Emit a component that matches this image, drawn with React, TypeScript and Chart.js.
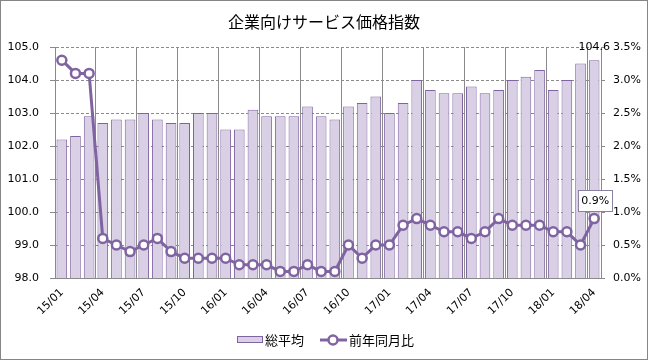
import React, { useEffect, useRef } from "react";
import { Chart, registerables } from "chart.js";

Chart.register(...registerables);

const TITLE = "企業向けサービス価格指数";
const SERIES_BAR = "総平均";
const SERIES_LINE = "前年同月比";

const categories = [
  "15/01", "15/02", "15/03", "15/04", "15/05", "15/06", "15/07", "15/08", "15/09", "15/10", "15/11", "15/12",
  "16/01", "16/02", "16/03", "16/04", "16/05", "16/06", "16/07", "16/08", "16/09", "16/10", "16/11", "16/12",
  "17/01", "17/02", "17/03", "17/04", "17/05", "17/06", "17/07", "17/08", "17/09", "17/10", "17/11", "17/12",
  "18/01", "18/02", "18/03", "18/04",
];

const indexValues = [
  102.2, 102.3, 102.9, 102.7, 102.8, 102.8, 103.0, 102.8, 102.7, 102.7, 103.0, 103.0,
  102.5, 102.5, 103.1, 102.9, 102.9, 102.9, 103.2, 102.9, 102.8, 103.2, 103.3, 103.5,
  103.0, 103.3, 104.0, 103.7, 103.6, 103.6, 103.8, 103.6, 103.7, 104.0, 104.1, 104.3,
  103.7, 104.0, 104.5, 104.6,
];

const yoyValues = [
  3.3, 3.1, 3.1, 0.6, 0.5, 0.4, 0.5, 0.6, 0.4, 0.3, 0.3, 0.3,
  0.3, 0.2, 0.2, 0.2, 0.1, 0.1, 0.2, 0.1, 0.1, 0.5, 0.3, 0.5,
  0.5, 0.8, 0.9, 0.8, 0.7, 0.7, 0.6, 0.7, 0.9, 0.8, 0.8, 0.8,
  0.7, 0.7, 0.5, 0.9,
];

const LEFT_MIN = 98;
const LEFT_MAX = 105;
const LEFT_STEP = 1;
const RIGHT_MIN = 0;
const RIGHT_MAX = 3.5;
const RIGHT_STEP = 0.5;

const PURPLE = "#8064A2";
const BAR_FILL = "#D9D0E5";
const GRID = "#8a8a8a";
const TICK_FONT = "'DejaVu Sans', Verdana, sans-serif";
const CJK_FONT = "'Noto Sans CJK JP', 'Noto Sans', sans-serif";

const decorPlugin = {
  id: "decor",
  beforeDraw(chart: any) {
    const ctx = chart.ctx;
    ctx.save();
    ctx.fillStyle = "#ffffff";
    ctx.fillRect(0, 0, chart.width, chart.height);
    ctx.restore();
  },
  afterDraw(chart: any) {
    const ctx = chart.ctx;
    const n = categories.length;
    ctx.save();
    // outer border
    ctx.strokeStyle = "#868686";
    ctx.lineWidth = 1;
    ctx.strokeRect(0.5, 0.5, 647, 359);

    // title
    ctx.fillStyle = "#000";
    ctx.font = `16px ${CJK_FONT}`;
    ctx.textAlign = "center";
    ctx.textBaseline = "middle";
    ctx.fillText(TITLE, 324, 22);

    // bar data label (last)
    const barMeta = chart.getDatasetMeta(1);
    const lastBar = barMeta.data[n - 1];
    ctx.font = `11px ${TICK_FONT}`;
    ctx.fillStyle = "#000";
    ctx.fillText(indexValues[n - 1].toFixed(1), lastBar.x, lastBar.y - 13);

    // line data label (last) in a box
    const lineMeta = chart.getDatasetMeta(0);
    const pt = lineMeta.data[n - 1];
    const bw = 34;
    const bh = 21;
    const cx = pt.x + 1;
    const cy = pt.y - 18;
    ctx.fillStyle = "#fff";
    ctx.fillRect(Math.round(cx - bw / 2) + 0.5, Math.round(cy - bh / 2) + 0.5, bw, bh);
    ctx.strokeStyle = "#8a80a0";
    ctx.strokeRect(Math.round(cx - bw / 2) + 0.5, Math.round(cy - bh / 2) + 0.5, bw, bh);
    ctx.fillStyle = "#000";
    ctx.fillText(yoyValues[n - 1].toFixed(1) + "%", cx, cy + 1);

    // legend
    const ly = 340;
    ctx.fillStyle = BAR_FILL;
    ctx.fillRect(237.5, 336.5, 25, 6);
    ctx.strokeStyle = PURPLE;
    ctx.lineWidth = 1;
    ctx.strokeRect(237.5, 336.5, 25, 6);
    ctx.fillStyle = "#000";
    ctx.font = `13px ${CJK_FONT}`;
    ctx.textAlign = "left";
    ctx.fillText(SERIES_BAR, 265, ly);

    ctx.strokeStyle = PURPLE;
    ctx.lineWidth = 3;
    ctx.beginPath();
    ctx.moveTo(320, ly);
    ctx.lineTo(347, ly);
    ctx.stroke();
    ctx.beginPath();
    ctx.arc(333, ly, 4.5, 0, Math.PI * 2);
    ctx.fillStyle = "#fff";
    ctx.fill();
    ctx.lineWidth = 2.5;
    ctx.stroke();
    ctx.fillStyle = "#000";
    ctx.fillText(SERIES_LINE, 349, ly);
    ctx.restore();
  },
};

export default function App() {
  const canvasRef = useRef<HTMLCanvasElement | null>(null);

  useEffect(() => {
    const canvas = canvasRef.current;
    if (!canvas) return;
    const chart = new Chart(canvas, {
      type: "bar",
      data: {
        labels: categories,
        datasets: [
          {
            type: "line",
            label: SERIES_LINE,
            data: yoyValues,
            yAxisID: "y1",
            order: 0,
            borderColor: PURPLE,
            borderWidth: 3,
            pointRadius: 4.5,
            pointBorderWidth: 2.5,
            pointBackgroundColor: "#fff",
            pointBorderColor: PURPLE,
            tension: 0,
          } as any,
          {
            type: "bar",
            label: SERIES_BAR,
            data: indexValues,
            yAxisID: "y",
            order: 1,
            backgroundColor: BAR_FILL,
            borderColor: PURPLE,
            borderWidth: 1,
            categoryPercentage: 1,
            barPercentage: 0.78,
          } as any,
        ],
      },
      options: {
        responsive: false,
        animation: false,
        layout: { padding: { top: 47, left: 0, right: 0, bottom: 0 } },
        plugins: {
          legend: { display: false },
          title: { display: false },
          tooltip: { enabled: false },
        },
        scales: {
          x: {
            offset: true,
            afterFit: (s: any) => {
              s.height = 83;
            },
            grid: {
              offset: true,
              drawTicks: false,
              color: (c: any) => (c.index % 3 === 0 ? GRID : "rgba(0,0,0,0)"),
            },
            border: { color: GRID },
            ticks: {
              autoSkip: false,
              maxRotation: 45,
              minRotation: 45,
              padding: 8,
              color: "#000",
              font: { family: TICK_FONT, size: 11 },
              callback: (_v: any, i: number) => (i % 3 === 0 ? categories[i] : ""),
            },
          },
          y: {
            position: "left",
            min: LEFT_MIN,
            max: LEFT_MAX,
            afterFit: (s: any) => {
              s.width = 55;
            },
            grid: { color: GRID, tickLength: 5, tickColor: GRID },
            border: { color: GRID, dash: [3, 2] },
            ticks: {
              stepSize: LEFT_STEP,
              padding: 11,
              color: "#000",
              font: { family: TICK_FONT, size: 11 },
              callback: (v: any) => Number(v).toFixed(1),
            },
          },
          y1: {
            position: "right",
            min: RIGHT_MIN,
            max: RIGHT_MAX,
            afterFit: (s: any) => {
              s.width = 48;
            },
            grid: { drawOnChartArea: false, color: GRID, tickLength: 4, tickColor: GRID },
            border: { color: GRID },
            ticks: {
              stepSize: RIGHT_STEP,
              padding: 8,
              color: "#000",
              font: { family: TICK_FONT, size: 11 },
              callback: (v: any) => Number(v).toFixed(1) + "%",
            },
          },
        },
      },
      plugins: [decorPlugin],
    } as any);
    return () => chart.destroy();
  }, []);

  return (
    <div style={{ position: "fixed", left: 0, top: 0, width: 649, height: 361, background: "#fff" }}>
      <canvas ref={canvasRef} width={649} height={361} style={{ display: "block" }} />
    </div>
  );
}
